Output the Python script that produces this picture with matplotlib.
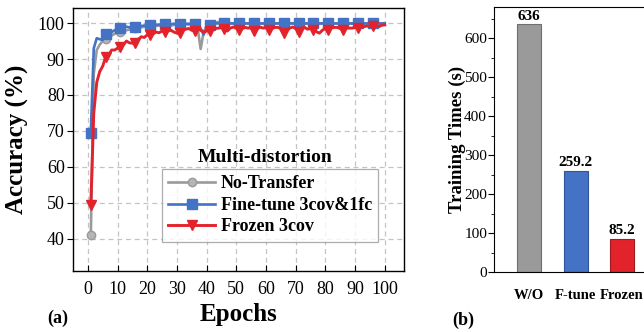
import matplotlib.pyplot as plt
import numpy as np

plt.rcParams['font.family'] = ['Liberation Serif', 'DejaVu Serif']
plt.rcParams['mathtext.fontset'] = 'stix'

# accuracy curves, one value per epoch (1..100)
epochs = np.arange(1, 101)
no_transfer = [
    41.0, 86.0, 92.5, 94.0, 95.0, 95.5, 96.0, 96.5, 97.0, 97.5,
    97.5, 98.0, 98.0, 98.2, 98.5, 98.5, 98.8, 98.8, 99.0, 99.0,
    99.0, 99.2, 99.2, 99.3, 99.3, 99.4, 99.5, 99.3, 99.5, 99.6,
    99.6, 99.6, 99.7, 99.6, 99.7, 99.2, 98.5, 92.8, 97.5, 99.2,
    99.5, 99.8, 100.2, 100.3, 100.0, 99.9, 99.9, 100.0, 99.9, 99.9,
    99.9, 100.0, 99.9, 99.9, 100.0, 99.9, 100.0, 99.9, 99.9, 100.0,
    99.9, 100.0, 99.9, 99.9, 100.0, 99.9, 99.9, 100.0, 99.9, 100.0,
    99.9, 100.0, 99.9, 99.9, 100.0, 99.9, 100.0, 99.9, 99.9, 100.0,
    99.9, 100.0, 99.9, 99.9, 100.0, 99.9, 100.0, 99.9, 99.9, 100.0,
    99.9, 100.0, 99.9, 99.9, 100.0, 99.9, 100.0, 99.9, 99.9, 100.0,
]
fine_tune = [
    69.5, 93.0, 95.8, 95.5, 95.3, 97.0, 96.0, 97.5, 98.0, 98.5,
    98.5, 98.8, 99.0, 98.8, 99.0, 99.0, 99.0, 99.2, 99.3, 99.5,
    99.5, 99.5, 99.5, 99.6, 99.6, 99.8, 99.8, 99.7, 99.8, 99.8,
    99.8, 99.8, 99.8, 99.8, 99.8, 99.8, 99.5, 98.5, 96.8, 98.5,
    99.5, 99.8, 99.9, 99.9, 99.9, 99.9, 99.9, 99.9, 99.9, 99.9,
    99.9, 99.9, 99.9, 99.9, 99.9, 99.9, 99.9, 99.9, 99.9, 99.9,
    99.9, 99.9, 99.9, 99.9, 99.9, 99.9, 99.9, 99.9, 99.9, 99.9,
    99.9, 99.9, 99.9, 99.9, 99.9, 99.9, 99.9, 99.9, 99.9, 99.9,
    99.9, 99.9, 99.9, 99.9, 99.9, 99.9, 99.9, 99.9, 99.9, 99.9,
    99.9, 99.9, 99.9, 99.9, 99.9, 99.9, 99.9, 99.9, 99.9, 99.9,
]
frozen = [
    49.5, 75.0, 83.5, 86.5, 88.0, 90.5, 91.0, 92.5, 92.5, 93.0,
    93.3, 94.0, 95.0, 94.5, 94.4, 94.4, 95.5, 96.2, 96.0, 96.7,
    96.7, 97.0, 97.5, 97.3, 97.8, 97.5, 97.8, 98.0, 97.5, 97.2,
    97.2, 98.0, 98.3, 98.5, 98.0, 97.8, 98.5, 98.0, 97.5, 97.8,
    97.8, 98.2, 98.5, 98.6, 98.8, 98.3, 97.8, 98.6, 98.9, 98.6,
    98.0, 98.5, 98.8, 98.6, 98.8, 97.8, 98.5, 98.9, 98.6, 98.8,
    98.0, 98.5, 98.8, 98.8, 98.5, 97.3, 98.0, 98.6, 98.9, 98.5,
    97.5, 98.6, 98.8, 98.3, 98.5, 98.2, 97.6, 97.2, 98.0, 98.5,
    98.2, 98.7, 98.8, 98.8, 98.5, 98.2, 98.7, 98.6, 98.6, 98.8,
    98.5, 98.8, 99.0, 99.2, 99.0, 99.2, 99.3, 99.0, 99.4, 99.5,
]

# training time per method
methods = ['W/O', 'F-tune', 'Frozen']
train_times = [636, 259.2, 85.2]
time_labels = ['636', '259.2', '85.2']

gray = '#9a9a9a'
blue = '#4472c4'
red = '#e3232b'

W, H = 644, 332
fig = plt.figure(figsize=(W / 100, H / 100), dpi=100)

def px_axes(l, t, r, b):
    return fig.add_axes([l / W, 1 - b / H, (r - l) / W, (b - t) / H])

# ---- (a) accuracy vs epochs ----
ax = px_axes(73, 8, 404, 271)
ax.plot(epochs, no_transfer, color=gray, lw=1.9, marker='o', ms=6,
        markevery=5, mfc='#b5b5b5', mec=gray, label='No-Transfer')
ax.plot(epochs, fine_tune, color=blue, lw=1.9, marker='s', ms=6.5,
        markevery=5, label='Fine-tune 3cov&1fc')
ax.plot(epochs, frozen, color=red, lw=2.1, marker='v', ms=7.5,
        markevery=5, label='Frozen 3cov')
ax.set_xlim(-5, 106.5)
ax.set_ylim(31, 104.2)
ax.set_xticks(np.arange(0, 101, 10))
ax.set_yticks(np.arange(40, 101, 10))
ax.grid(True, ls=(0, (4, 3)), color='#c4c4c4', lw=0.9)
ax.tick_params(axis='x', direction='in', length=4, labelsize=13, pad=7)
ax.tick_params(axis='y', direction='out', length=4, labelsize=13, pad=2)
for s in ax.spines.values():
    s.set_linewidth(1.0)
ax.set_xlabel('Epochs', fontsize=18, fontweight='bold', labelpad=4)
ax.set_ylabel('Accuracy (%)', fontsize=18, fontweight='bold', labelpad=6)

leg = ax.legend(loc='upper left', bbox_to_anchor=(162 / W, 1 - 169 / H),
                bbox_transform=fig.transFigure, frameon=True, fancybox=False,
                prop={'weight': 'bold', 'size': 13}, handlelength=2.6,
                handletextpad=0.3, borderpad=0.35, labelspacing=0.25,
                borderaxespad=0)
leg.get_frame().set_edgecolor('#999999')
leg.get_frame().set_linewidth(0.9)
fig.text(265 / W, 1 - 157 / H, 'Multi-distortion', ha='center', va='center',
         fontsize=14, fontweight='bold')

# ---- (b) training time ----
bx = px_axes(494, 7, 652, 272)
x = np.arange(len(methods))
bx.bar(x, train_times, width=0.52, color=[gray, blue, red],
       edgecolor=['#6e6e6e', '#2f5597', '#a01a1f'], linewidth=0.8)
for xi, v, t in zip(x, train_times, time_labels):
    bx.text(xi, v + 4, t, ha='center', va='bottom', fontsize=11,
            fontweight='bold')
bx.set_xlim(-0.76, 2.65)
bx.set_ylim(0, 680)
bx.set_yticks(np.arange(0, 601, 100))
bx.set_yticks(np.arange(50, 651, 100), minor=True)
bx.set_xticks(x)
bx.set_xticklabels(methods, fontsize=10.5, fontweight='bold')
bx.tick_params(axis='x', length=0, pad=12)
bx.tick_params(axis='y', which='major', direction='out', length=4,
               labelsize=11, pad=1)
bx.tick_params(axis='y', which='minor', direction='out', length=2.5)
bx.spines['right'].set_visible(False)
bx.set_ylabel('Training Times (s)', fontsize=13.5, fontweight='bold',
              labelpad=-1)

fig.text(58 / W, 1 - 318 / H, '(a)', ha='center', va='center', fontsize=13,
         fontweight='bold')
fig.text(463 / W, 1 - 320 / H, '(b)', ha='center', va='center', fontsize=13,
         fontweight='bold')

fig.savefig('out.png', dpi=100)
